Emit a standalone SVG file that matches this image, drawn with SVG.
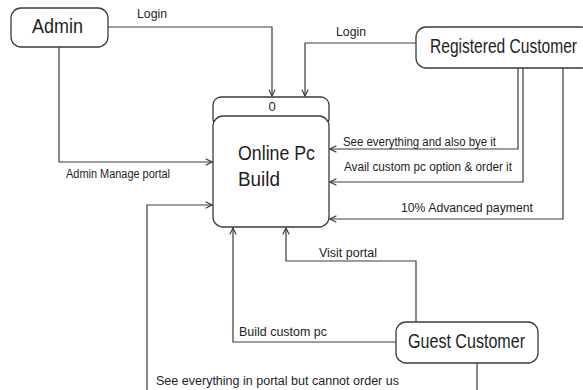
<svg xmlns="http://www.w3.org/2000/svg" width="583" height="390" viewBox="0 0 583 390">
<style>
.box{fill:#fff;stroke:#3a3a3a;stroke-width:1.3}
.ln{fill:none;stroke:#3a3a3a;stroke-width:1.2}
.big{font-family:"Liberation Sans",Arial,sans-serif;font-size:20px;fill:#1e1e1e}
.sm{font-family:"Liberation Sans",Arial,sans-serif;font-size:12px;fill:#1e1e1e}
</style>
<defs>
<marker id="ar" viewBox="0 0 10 10" refX="9" refY="5" markerWidth="8" markerHeight="8" orient="auto" markerUnits="userSpaceOnUse">
<path d="M1,1 L9,5 L1,9" fill="none" stroke="#3a3a3a" stroke-width="1.4"/>
</marker>
</defs>
<g id="connectors">
<path class="ln" marker-end="url(#ar)" d="M108,27 H272 V96"/>
<path class="ln" marker-end="url(#ar)" d="M416,43 H305 V96"/>
<path class="ln" marker-end="url(#ar)" d="M518,68 V149 H330"/>
<path class="ln" marker-end="url(#ar)" d="M523,68 V182 H330"/>
<path class="ln" marker-end="url(#ar)" d="M563,68 V219 H330"/>
<path class="ln" marker-end="url(#ar)" d="M59,47 V162 H212"/>
<path class="ln" marker-end="url(#ar)" d="M477,363 V400 H147 V205 H212"/>
<path class="ln" marker-end="url(#ar)" d="M396,342 H233 V228"/>
<path class="ln" marker-end="url(#ar)" d="M416,322 V261 H286 V228"/>
<text class="sm" x="137" y="18" textLength="30" lengthAdjust="spacingAndGlyphs">Login</text>
<text class="sm" x="336" y="36" textLength="30" lengthAdjust="spacingAndGlyphs">Login</text>
<text class="sm" x="343" y="146" textLength="153" lengthAdjust="spacingAndGlyphs">See everything and also bye it</text>
<text class="sm" x="344" y="171" textLength="168" lengthAdjust="spacingAndGlyphs">Avail custom pc option &amp; order it</text>
<text class="sm" x="401" y="212" textLength="132" lengthAdjust="spacingAndGlyphs">10% Advanced payment</text>
<text class="sm" x="66" y="178" textLength="104" lengthAdjust="spacingAndGlyphs">Admin Manage portal</text>
<text class="sm" x="319" y="257" textLength="58" lengthAdjust="spacingAndGlyphs">Visit portal</text>
<text class="sm" x="239" y="336" textLength="88" lengthAdjust="spacingAndGlyphs">Build custom pc</text>
<text class="sm" x="156" y="385" textLength="243" lengthAdjust="spacingAndGlyphs">See everything in portal but cannot order us</text>
</g>
<g id="admin">
<rect class="box" x="11" y="8" width="97" height="39" rx="10"/>
<text class="big" x="32" y="33" textLength="51" lengthAdjust="spacingAndGlyphs">Admin</text>
</g>
<g id="registered-customer">
<rect class="box" x="416" y="27" width="175" height="41" rx="10"/>
<text class="big" x="430" y="53" textLength="147" lengthAdjust="spacingAndGlyphs">Registered Customer</text>
</g>
<g id="guest-customer">
<rect class="box" x="396" y="322" width="142" height="41" rx="10"/>
<text class="big" x="408" y="348" textLength="117" lengthAdjust="spacingAndGlyphs">Guest Customer</text>
</g>
<g id="process">
<rect class="box" x="213" y="97" width="116" height="30" rx="8"/>
<rect class="box" x="213" y="116" width="116" height="111" rx="10"/>
<text class="sm" x="272" y="111" text-anchor="middle" style="font-size:13px">0</text>
<text class="big" x="238" y="160" textLength="77" lengthAdjust="spacingAndGlyphs">Online Pc</text>
<text class="big" x="238" y="186" textLength="42" lengthAdjust="spacingAndGlyphs">Build</text>
</g>
</svg>
